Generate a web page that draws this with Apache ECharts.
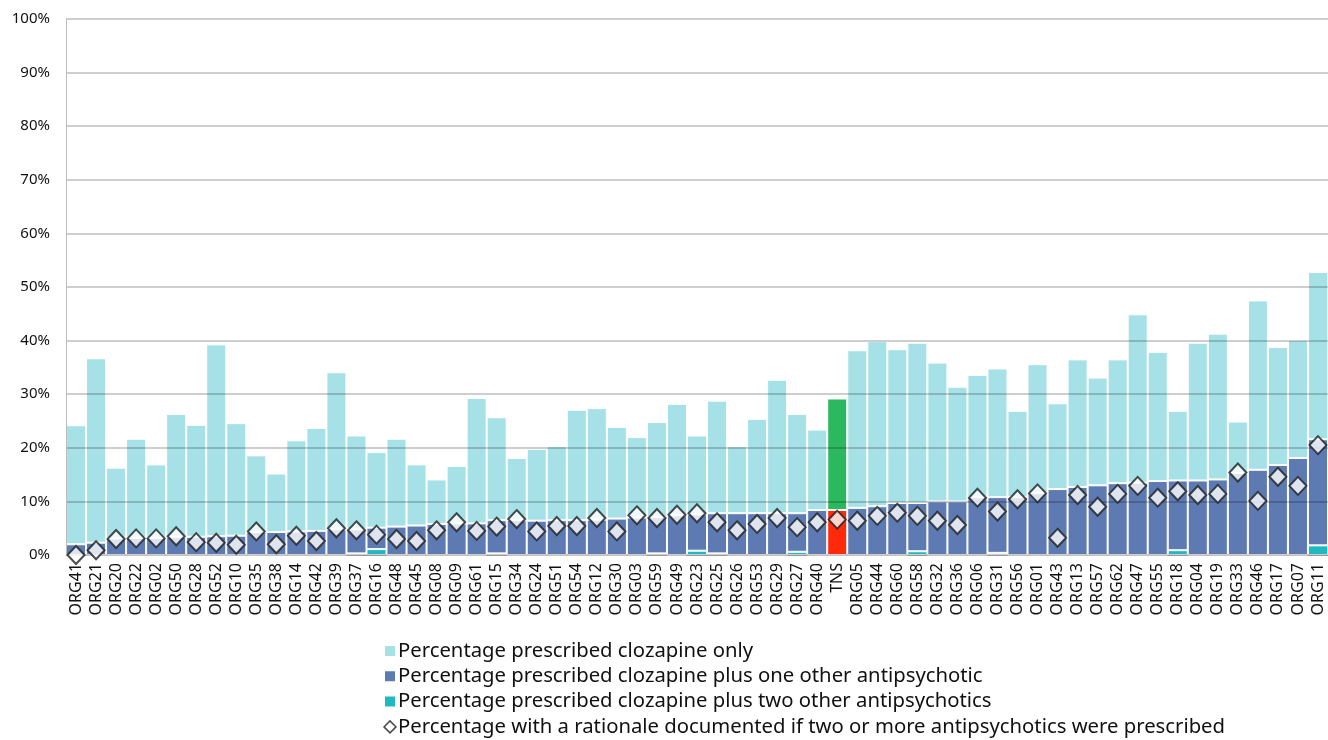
<!DOCTYPE html>
<html>
<head>
<meta charset="utf-8">
<script src="https://cdn.jsdelivr.net/npm/echarts@6/dist/echarts.min.js"></script>
<style>
  html, body { margin: 0; padding: 0; background: #fff; }
  #chart { width: 1328px; height: 740px; }
</style>
</head>
<body>
<div id="chart"></div>
<script>
  // organisations, in chart order
  var orgs = ['ORG41', 'ORG21', 'ORG20', 'ORG22', 'ORG02', 'ORG50', 'ORG28', 'ORG52', 'ORG10', 'ORG35',
    'ORG38', 'ORG14', 'ORG42', 'ORG39', 'ORG37', 'ORG16', 'ORG48', 'ORG45', 'ORG08', 'ORG09',
    'ORG61', 'ORG15', 'ORG34', 'ORG24', 'ORG51', 'ORG54', 'ORG12', 'ORG30', 'ORG03', 'ORG59',
    'ORG49', 'ORG23', 'ORG25', 'ORG26', 'ORG53', 'ORG29', 'ORG27', 'ORG40', 'TNS', 'ORG05',
    'ORG44', 'ORG60', 'ORG58', 'ORG32', 'ORG36', 'ORG06', 'ORG31', 'ORG56', 'ORG01', 'ORG43',
    'ORG13', 'ORG57', 'ORG62', 'ORG47', 'ORG55', 'ORG18', 'ORG04', 'ORG19', 'ORG33', 'ORG46',
    'ORG17', 'ORG07', 'ORG11'];

  // clozapine plus two other antipsychotics (bottom of stack)
  var twoOther = [0, 0, 0, 0, 0, 0, 0, 0, 0, 0,
    0, 0, 0, 0, 0.3, 1.1, 0, 0, 0, 0,
    0, 0.3, 0, 0, 0, 0, 0, 0, 0, 0.3,
    0, 0.8, 0.3, 0, 0, 0, 0.6, 0, 0, 0,
    0, 0, 0.7, 0, 0, 0, 0.4, 0, 0, 0,
    0, 0, 0, 0, 0, 0.9, 0, 0, 0, 0,
    0, 0, 1.8];

  // clozapine plus one other antipsychotic
  var oneOther = [2.0, 2.3, 3.1, 3.2, 3.2, 3.4, 3.4, 3.5, 3.6, 4.3,
    4.3, 4.4, 4.5, 4.8, 4.5, 4.0, 5.3, 5.5, 5.8, 5.9,
    5.9, 6.2, 6.5, 6.4, 6.5, 6.5, 6.6, 6.8, 7.0, 6.8,
    7.4, 6.8, 7.5, 7.8, 7.8, 7.8, 7.2, 8.4, 8.4, 8.8,
    9.1, 9.7, 9.0, 10.0, 10.0, 10.8, 10.4, 10.8, 11.6, 12.3,
    12.7, 13.0, 13.4, 13.5, 13.8, 13.0, 13.9, 14.1, 15.3, 15.9,
    16.8, 18.1, 19.8];

  // clozapine only (top of stack)
  var onlyClz = [22.2, 34.4, 13.2, 18.5, 13.7, 22.9, 20.9, 35.8, 21.0, 14.3,
    10.9, 17.0, 19.2, 29.3, 17.5, 14.1, 16.4, 11.4, 8.3, 10.7,
    23.4, 19.2, 11.6, 13.4, 13.8, 20.6, 20.8, 17.1, 15.0, 17.7,
    20.8, 14.7, 21.0, 12.5, 17.6, 24.9, 18.5, 15.0, 20.8, 29.4,
    30.8, 28.7, 29.9, 25.9, 21.4, 22.8, 24.0, 16.1, 24.0, 16.0,
    23.8, 20.1, 23.1, 31.4, 24.1, 13.0, 25.7, 27.2, 9.6, 31.6,
    22.0, 22.0, 31.2];

  // rationale documented (diamonds)
  var rationale = [0, 0.9, 3.0, 3.1, 3.1, 3.5, 2.4, 2.3, 1.9, 4.4,
    2.0, 3.6, 2.6, 5.0, 4.6, 3.8, 3.0, 2.6, 4.6, 6.1,
    4.5, 5.3, 6.7, 4.4, 5.4, 5.4, 6.9, 4.4, 7.4, 6.9,
    7.5, 7.8, 6.1, 4.6, 5.8, 6.9, 5.2, 6.1, 6.6, 6.4,
    7.3, 7.9, 7.3, 6.4, 5.6, 10.7, 8.1, 10.4, 11.5, 3.2,
    11.2, 9.0, 11.4, 12.9, 10.7, 11.9, 11.2, 11.4, 15.4, 10.1,
    14.6, 12.9, 20.5];

  var yTicks = [0, 10, 20, 30, 40, 50, 60, 70, 80, 90, 100];

  var names = [
    'Percentage prescribed clozapine only',
    'Percentage prescribed clozapine plus one other antipsychotic',
    'Percentage prescribed clozapine plus two other antipsychotics',
    'Percentage with a rationale documented if two or more antipsychotics were prescribed'
  ];

  // TNS is the national total and gets its own colours
  function highlight(values, color) {
    return values.map(function (v, i) {
      return orgs[i] === 'TNS' ? {value: v, itemStyle: {color: color}} : v;
    });
  }

  var chart = echarts.init(document.getElementById('chart'));
  var barStyle = {borderColor: '#fff', borderWidth: 1};

  var option = {
    animation: false,
    textStyle: {fontFamily: 'Noto Sans'},
    grid: {left: 66, right: 0, top: 19, bottom: 185},
    legend: {
      orient: 'vertical',
      left: 383,
      top: 640.5,
      padding: 0,
      itemWidth: 12,
      itemHeight: 12,
      itemGap: 4.3,
      data: [
        {name: names[0], icon: 'rect'},
        {name: names[1], icon: 'rect'},
        {name: names[2], icon: 'rect'},
        {name: names[3], itemStyle: {borderWidth: 1.5}}
      ],
      textStyle: {fontSize: 20.3, lineHeight: 21, color: '#111', padding: [0, 0, 0, -3]}
    },
    xAxis: {
      type: 'category',
      data: orgs,
      axisLine: {lineStyle: {color: '#bdbdbd'}},
      axisTick: {length: 7, lineStyle: {color: '#bdbdbd'}},
      axisLabel: {rotate: 90, interval: 0, fontSize: 16, color: '#111', margin: 8}
    },
    yAxis: {
      type: 'value',
      min: yTicks[0],
      max: yTicks[yTicks.length - 1],
      interval: 10,
      z: 3,
      axisLine: {show: true, lineStyle: {color: '#bdbdbd'}},
      axisTick: {show: false},
      splitLine: {lineStyle: {color: 'rgba(0,0,0,0.26)', width: 1.5}},
      axisLabel: {formatter: '{value}%', fontSize: 15, color: '#111', margin: 16}
    },
    series: [
      {
        name: names[2], type: 'bar', stack: 'clz', barCategoryGap: '0%',
        data: twoOther,
        itemStyle: Object.assign({color: '#1fb8c3'}, barStyle)
      },
      {
        name: names[1], type: 'bar', stack: 'clz', barCategoryGap: '0%',
        data: highlight(oneOther, '#ff2a0a'),
        itemStyle: Object.assign({color: '#5d7ab3'}, barStyle)
      },
      {
        name: names[0], type: 'bar', stack: 'clz', barCategoryGap: '0%',
        data: highlight(onlyClz, '#2bb85f'),
        itemStyle: Object.assign({color: '#a6e1e8'}, barStyle)
      },
      {
        name: names[3], type: 'scatter', z: 10,
        symbol: 'diamond', symbolSize: [17, 18],
        data: rationale,
        itemStyle: {color: '#fff', borderColor: '#1e1e1e', borderWidth: 2}
      }
    ]
  };

  chart.setOption(option);
</script>
</body>
</html>
